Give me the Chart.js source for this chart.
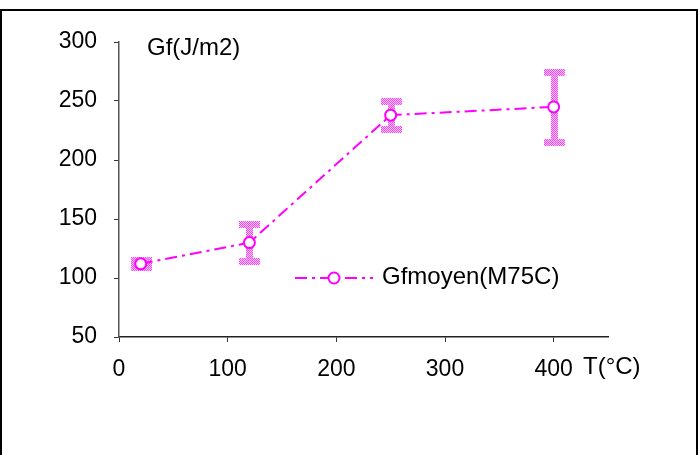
<!DOCTYPE html>
<html>
<head>
<meta charset="utf-8">
<script src="https://cdn.jsdelivr.net/npm/chart.js@4.4.1/dist/chart.umd.min.js"></script>
<style>
  body { margin: 0; background: #fff; }
  #wrap { width: 700px; height: 455px; position: relative; }
</style>
</head>
<body>
<div id="wrap"><canvas id="myChart"></canvas></div>
<script>
// data
var temps = [20, 120, 250, 400];       // T(°C)
var gfMean = [112, 130, 238, 245];     // Gf moyen (J/m2)
var gfErr = [3, 16, 12, 30];           // +/- error
var seriesName = "Gfmoyen(M75C)";
var yTitle = "Gf(J/m2)";
var xTitle = "T(°C)";

var FONT = "'Liberation Sans', Arial, sans-serif";
var magenta = "#ff00ff";

// checkered pink fill for the error bars
function makeHatch() {
    var p = document.createElement("canvas");
    p.width = 2; p.height = 2;
    var pc = p.getContext("2d");
    pc.fillStyle = "#ffc4ff";
    pc.fillRect(0, 0, 2, 2);
    pc.fillStyle = "#f04cf0";
    pc.fillRect(0, 0, 1, 1);
    pc.fillRect(1, 1, 1, 1);
    return p;
}
var hatchCanvas = makeHatch();

var points = temps.map(function (t, i) { return { x: t, y: gfMean[i] }; });

var errorBars = {
    id: "errorBars",
    beforeDatasetsDraw: function (chart) {
        var ctx = chart.ctx;
        var xs = chart.scales.x, ys = chart.scales.y;
        ctx.save();
        ctx.fillStyle = ctx.createPattern(hatchCanvas, "repeat");
        for (var i = 0; i < temps.length; i++) {
            var px = xs.getPixelForValue(temps[i]);
            var top = ys.getPixelForValue(gfMean[i] + gfErr[i]);
            var bot = ys.getPixelForValue(gfMean[i] - gfErr[i]);
            ctx.fillRect(Math.round(px - 3), Math.round(top - 3), 7, Math.round(bot - top + 6));
            ctx.fillRect(Math.round(px - 10), Math.round(top - 3), 21, 7);
            ctx.fillRect(Math.round(px - 10), Math.round(bot - 3), 21, 7);
        }
        ctx.restore();
    }
};

var decorations = {
    id: "decorations",
    afterDraw: function (chart) {
        var ctx = chart.ctx;
        ctx.save();
        // outer frame
        ctx.strokeStyle = "#000";
        ctx.lineWidth = 2;
        ctx.strokeRect(1, 10, 696, 500);

        ctx.fillStyle = "#000";
        ctx.textBaseline = "middle";
        ctx.textAlign = "left";
        ctx.font = "24px " + FONT;
        ctx.fillText(yTitle, 147, 48);
        ctx.fillText(xTitle, 583, 367);

        // legend
        ctx.strokeStyle = magenta;
        ctx.lineWidth = 2;
        ctx.setLineDash([12, 5, 3, 5]);
        ctx.beginPath();
        ctx.moveTo(295, 278);
        ctx.lineTo(373, 278);
        ctx.stroke();
        ctx.setLineDash([]);
        ctx.fillStyle = "#fff";
        ctx.beginPath();
        ctx.arc(334, 278, 5.5, 0, 2 * Math.PI);
        ctx.fill();
        ctx.stroke();
        ctx.fillStyle = "#000";
        ctx.fillText(seriesName, 382, 277);
        ctx.restore();
    }
};

var chart = new Chart(document.getElementById("myChart").getContext("2d"), {
    type: "scatter",
    data: {
        datasets: [{
            label: seriesName,
            data: points,
            showLine: true,
            borderColor: magenta,
            borderWidth: 2,
            borderDash: [12, 5, 3, 5],
            pointRadius: 5.5,
            pointBorderWidth: 2,
            pointBackgroundColor: "#fff",
            pointBorderColor: magenta,
            tension: 0
        }]
    },
    options: {
        responsive: true,
        maintainAspectRatio: false,
        animation: false,
        layout: { padding: { left: 0, top: 42, right: 92, bottom: 0 } },
        plugins: { legend: { display: false }, tooltip: { enabled: false } },
        scales: {
            x: {
                type: "linear",
                min: 0,
                max: 450,
                afterFit: function (s) { s.height = 118; },
                ticks: {
                    stepSize: 100,
                    includeBounds: false,
                    color: "#000",
                    padding: 14,
                    font: { family: FONT, size: 23 }
                },
                grid: { drawOnChartArea: false, tickLength: 5, color: "#333" },
                border: { display: true, color: "#222", width: 1.5 }
            },
            y: {
                min: 50,
                max: 300,
                afterFit: function (s) { s.width = 119; },
                ticks: {
                    stepSize: 50,
                    color: "#000",
                    padding: 17,
                    font: { family: FONT, size: 23 }
                },
                grid: { drawOnChartArea: false, tickLength: 5, color: "#333" },
                border: { display: true, color: "#555", width: 1.5 }
            }
        }
    },
    plugins: [errorBars, decorations]
});
</script>
</body>
</html>
